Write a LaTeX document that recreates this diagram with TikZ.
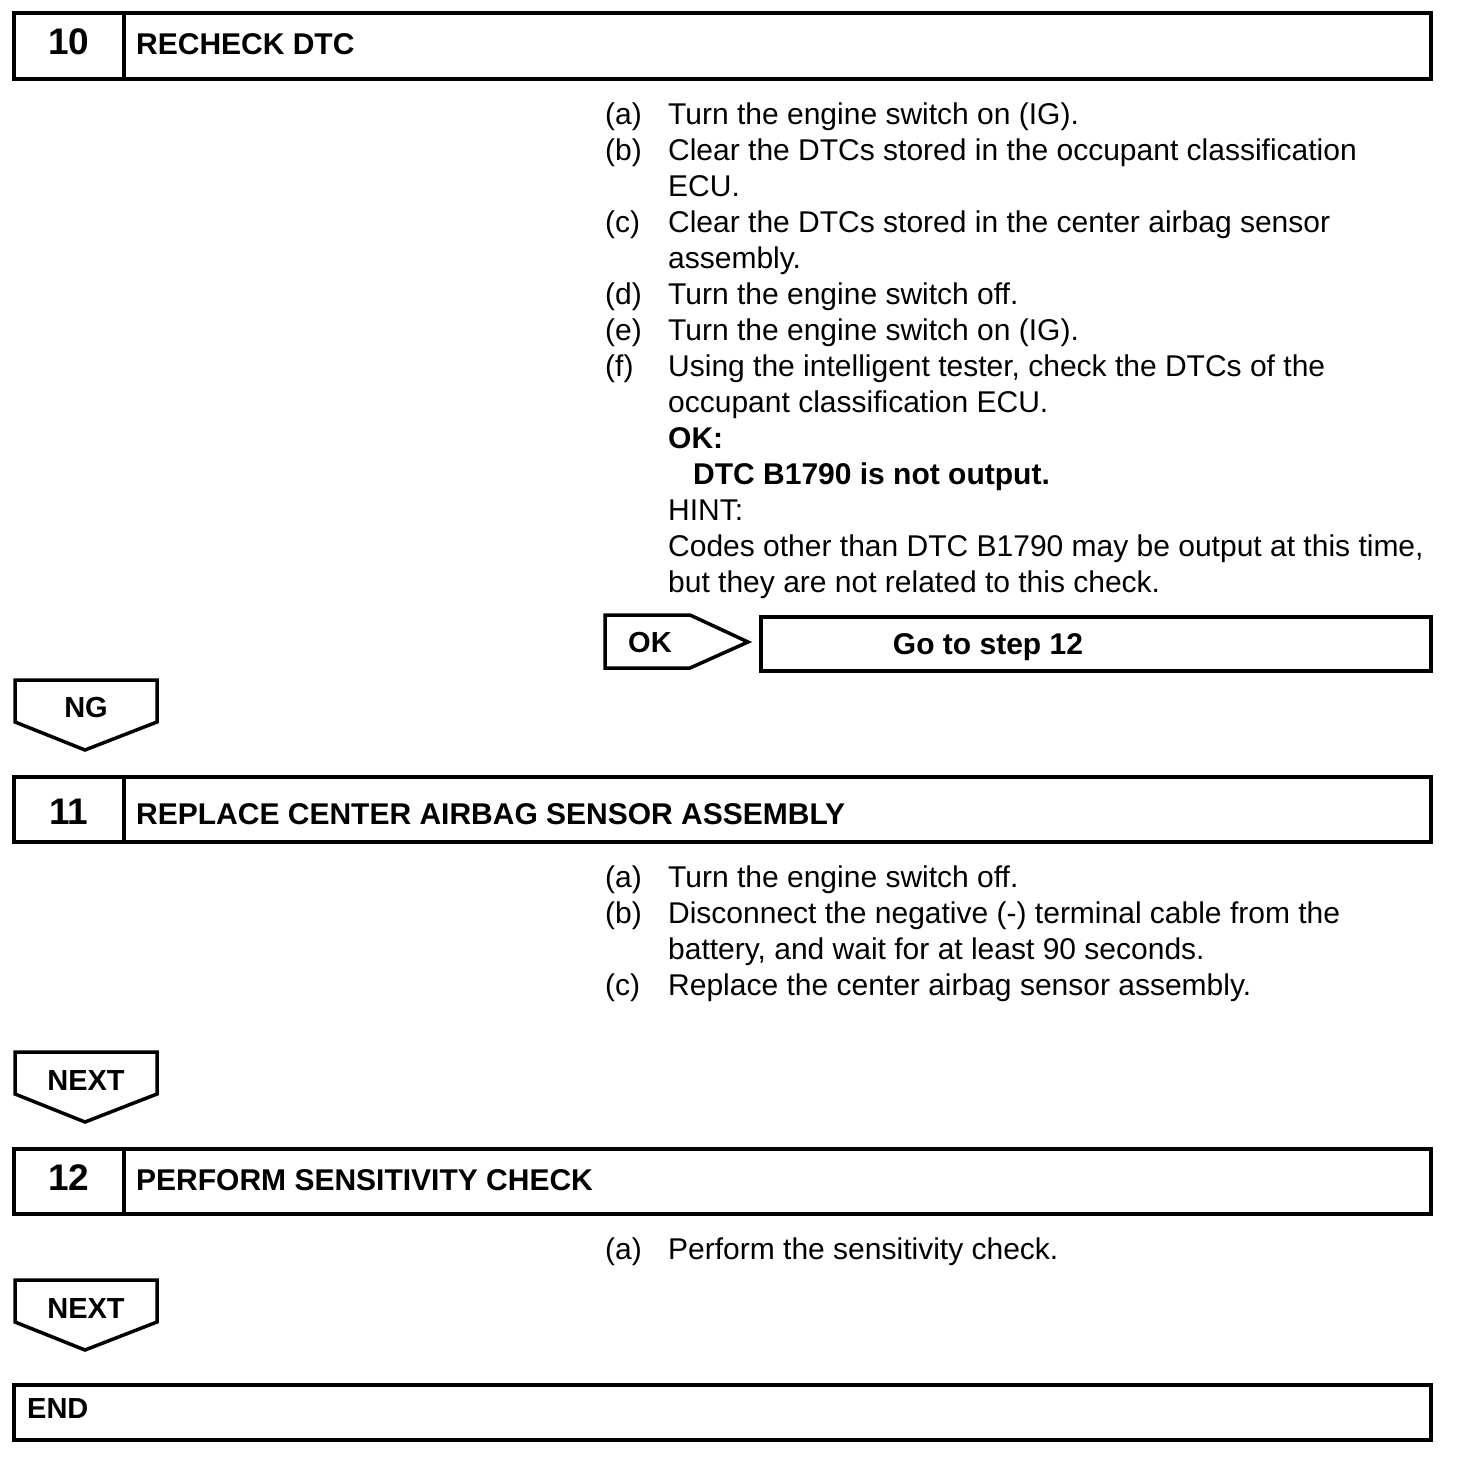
\documentclass[tikz,border=0pt]{standalone}
\usepackage{fontspec}
\setmainfont{Liberation Sans}
\usepackage{array}
\begin{document}
\begin{tikzpicture}[x=1pt,y=-1pt,
  boxline/.style={draw=black,line width=4pt,line join=miter},
  tagline/.style={draw=black,line width=3.5pt,line join=miter},
  numtxt/.style={inner sep=0pt,anchor=base,font=\bfseries\fontsize{37}{40}\selectfont},
  titletxt/.style={inner sep=0pt,anchor=base west,font=\bfseries\fontsize{30}{36}\selectfont},
  tagtxt/.style={inner sep=0pt,anchor=base,font=\bfseries\fontsize{29}{34}\selectfont},
  bodytxt/.style={inner sep=0pt,anchor=base west,font=\fontsize{30}{36}\selectfont}]
\useasboundingbox (0,0) rectangle (1456,1472);
\fill[white] (0,0) rectangle (1456,1472);

% ---- step 10 ----
\draw[boxline] (14,13) rectangle (1430.5,79);
\draw[boxline] (124,13) -- (124,79);
\node[numtxt] (n10) at (69,55) {10};
\node[titletxt] (t10) at (136,55) {RECHECK DTC};

\node[bodytxt] (b10) at (605,124) {%
\begin{tabular}[t]{@{}p{63pt}@{}l@{}}
(a) & Turn the engine switch on (IG).\\
(b) & Clear the DTCs stored in the occupant classification\\
    & ECU.\\
(c) & Clear the DTCs stored in the center airbag sensor\\
    & assembly.\\
(d) & Turn the engine switch off.\\
(e) & Turn the engine switch on (IG).\\
(f) & Using the intelligent tester, check the DTCs of the\\
    & occupant classification ECU.\\
    & \textbf{OK:}\\
    & \hspace*{25pt}\textbf{DTC B1790 is not output.}\\
    & HINT:\\
    & Codes other than DTC B1790 may be output at this time,\\
    & but they are not related to this check.
\end{tabular}};

% OK tag and goto box
\draw[tagline] (605,615) -- (690,615) -- (748,642) -- (690,668) -- (605,668) -- cycle;
\node[tagtxt,anchor=base west] (ok) at (628,652) {OK};
\draw[boxline] (761,617) rectangle (1430.5,671);
\node[tagtxt,font=\bfseries\fontsize{30}{36}\selectfont] (goto) at (988,654) {Go to step 12};

% NG tag
\draw[tagline] (15,680) -- (157,680) -- (157,722) -- (85,750) -- (15,722) -- cycle;
\node[tagtxt] (ng) at (86,717) {NG};

% ---- step 11 ----
\draw[boxline] (14,777) rectangle (1430.5,842);
\draw[boxline] (124,777) -- (124,842);
\node[numtxt] (n11) at (69,824) {11};
\node[titletxt] (t11) at (136,824) {REPLACE CENTER AIRBAG SENSOR ASSEMBLY};

\node[bodytxt] (b11) at (605,887) {%
\begin{tabular}[t]{@{}p{63pt}@{}l@{}}
(a) & Turn the engine switch off.\\
(b) & Disconnect the negative (-) terminal cable from the\\
    & battery, and wait for at least 90 seconds.\\
(c) & Replace the center airbag sensor assembly.
\end{tabular}};

% NEXT tag 1
\draw[tagline] (15,1052) -- (157,1052) -- (157,1094) -- (85,1122) -- (15,1094) -- cycle;
\node[tagtxt] (next1) at (86,1090) {NEXT};

% ---- step 12 ----
\draw[boxline] (14,1149) rectangle (1430.5,1214);
\draw[boxline] (124,1149) -- (124,1214);
\node[numtxt] (n12) at (69,1190) {12};
\node[titletxt] (t12) at (136,1190) {PERFORM SENSITIVITY CHECK};

\node[bodytxt] (b12) at (605,1259) {%
\begin{tabular}[t]{@{}p{63pt}@{}l@{}}
(a) & Perform the sensitivity check.
\end{tabular}};

% NEXT tag 2
\draw[tagline] (15,1280) -- (157,1280) -- (157,1322) -- (85,1350) -- (15,1322) -- cycle;
\node[tagtxt] (next2) at (86,1318) {NEXT};

% ---- END ----
\draw[boxline] (14,1385) rectangle (1430.5,1440);
\node[titletxt,font=\bfseries\fontsize{29}{34}\selectfont] (endt) at (27,1418) {END};
\end{tikzpicture}
\end{document}
